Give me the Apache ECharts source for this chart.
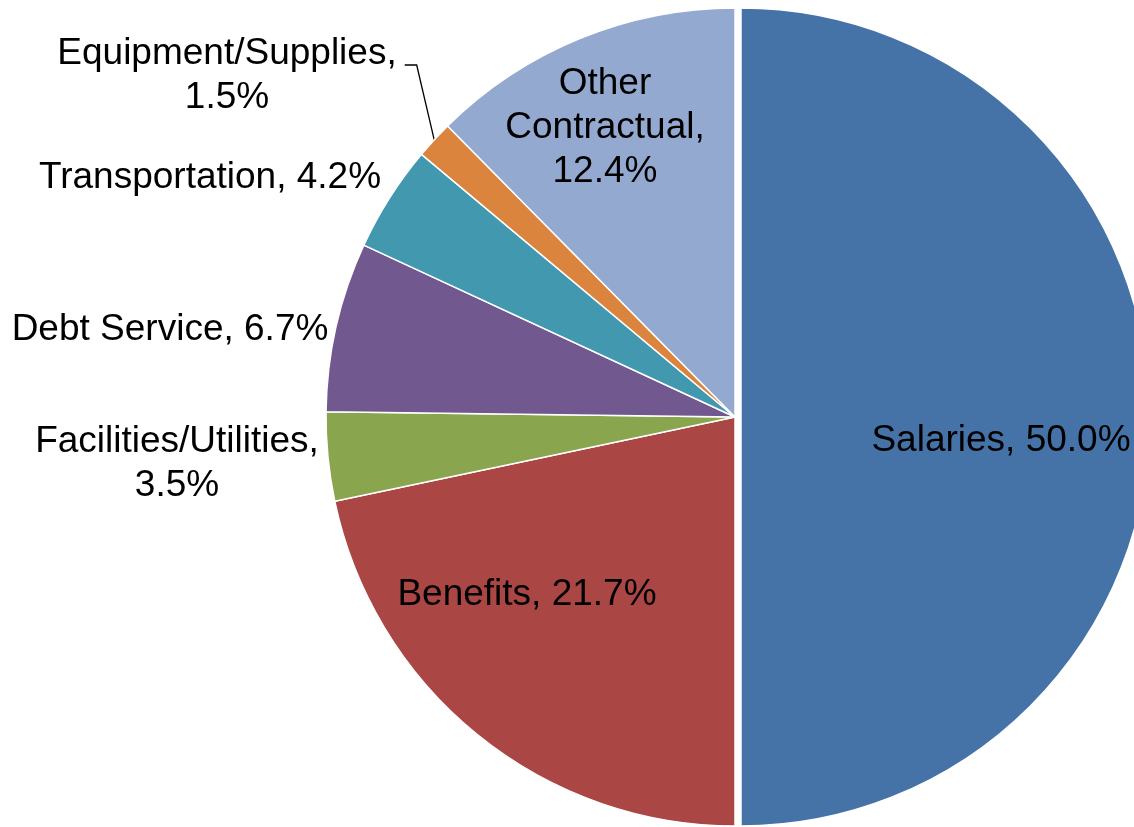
<!DOCTYPE html>
<html>
<head>
<meta charset="utf-8">
<script src="https://cdn.jsdelivr.net/npm/echarts@6/dist/echarts.min.js"></script>
<style>
html,body{margin:0;padding:0;background:#fff;}
#chart{width:1134px;height:827px;}
</style>
</head>
<body>
<div id="chart"></div>
<script>
const categories = ['Salaries', 'Benefits', 'Facilities/Utilities', 'Debt Service', 'Transportation', 'Equipment/Supplies', 'Other Contractual'];
const values = [50.0, 21.7, 3.5, 6.7, 4.2, 1.5, 12.4];
const colors = ['#4572A7', '#AA4643', '#89A54E', '#71588F', '#4198AF', '#DB843D', '#93A9CF'];
const explodedIndex = 0;   // Salaries is pulled out of the pie

// label layout (not data): centre of each label block, and how its text wraps
const labelCenters = [[1001, 441], [527, 595], [177, 464], [170, 330], [210, 178], [227, 76], [605, 128]];
const labelWrap = ['none', 'none', 'value', 'none', 'none', 'value', 'all'];
const insideLabels = [true, true, false, false, false, false, true];
const leaderLine = [false, false, false, false, false, true, false];

function labelText(i) {
  const name = categories[i];
  const v = values[i].toFixed(1) + '%';
  if (labelWrap[i] === 'value') return name + ',\n' + v;
  if (labelWrap[i] === 'all') return name.replace(' ', '\n') + ',\n' + v;
  return name + ', ' + v;
}

function isVisible(seriesIndex, i) {
  return seriesIndex === 0 ? i !== explodedIndex : i === explodedIndex;
}

const baseLabel = {
  fontFamily: 'Liberation Sans, Arial, sans-serif',
  fontSize: 37,
  lineHeight: 44,
  color: '#000',
  align: 'center'
};

function labelLayout(p) {
  const i = p.dataIndex;
  if (!isVisible(p.seriesIndex, i)) return {};
  const c = labelCenters[i];
  const w = p.labelRect.width, h = p.labelRect.height;
  const res = { x: c[0], y: c[1], align: 'center', verticalAlign: 'middle' };
  if (leaderLine[i] && p.labelLinePoints) {
    const right = c[0] + w / 2;
    const top = c[1] - h / 2;
    const edge = p.labelLinePoints[0];
    res.labelLinePoints = [edge, [right + 20, top + 33], [right + 8, top + 33]];
  }
  return res;
}

function makeItem(i, visible) {
  return {
    name: categories[i],
    value: values[i],
    itemStyle: visible ? { color: colors[i] } : { color: 'rgba(0,0,0,0)', borderWidth: 0 },
    label: {
      show: visible,
      position: insideLabels[i] ? 'inside' : 'outside',
      formatter: () => labelText(i)
    },
    labelLine: { show: visible && leaderLine[i] }
  };
}

const common = {
  type: 'pie',
  radius: 409,
  startAngle: 90,
  clockwise: true,
  avoidLabelOverlap: false,
  silent: true,
  emphasis: { disabled: true },
  itemStyle: { borderColor: '#fff', borderWidth: 1.5 },
  label: baseLabel,
  labelLine: { show: false, lineStyle: { color: '#000', width: 1.3 }, length: 20, length2: 10 },
  labelLayout: labelLayout
};

const chart = echarts.init(document.getElementById('chart'));
chart.setOption({
  animation: false,
  backgroundColor: '#fff',
  series: [
    Object.assign({}, common, {
      center: [735, 417],
      data: categories.map((n, i) => makeItem(i, isVisible(0, i)))
    }),
    Object.assign({}, common, {
      center: [741, 417],
      data: categories.map((n, i) => makeItem(i, isVisible(1, i)))
    })
  ]
});
</script>
</body>
</html>
